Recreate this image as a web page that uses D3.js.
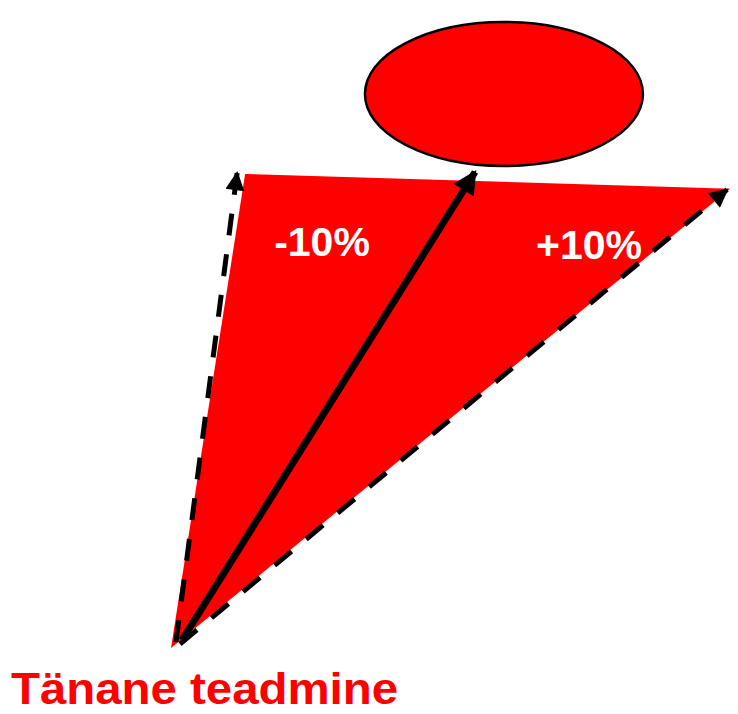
<!DOCTYPE html>
<head>
<meta charset="utf-8">
<title>Tänane teadmine</title>
<style>
  body { margin: 0; background: #fff; }
</style>
</head>
<body>
<svg width="738" height="714" id="svg1" font-family="Liberation Sans, Arial, sans-serif"></svg>
<script src="https://d3js.org/d3.v7.min.js"></script>
<script>

// diagram content
var captions = ["Tänane teadmine"];
var rangeLabels = ["-10%", "+10%"];
// points in a 0..100 diagram space: origin, lower bound, target, upper bound
var pointNames = ["origin", "low", "target", "high"];
var pointX = [0, 11.9, 53.2, 98.6];
var pointY = [0, 100, 100, 96.9];

var svg = d3.select("#svg1");

var x = d3.scaleLinear().domain([0, 100]).range([174, 738]);
var y = d3.scaleLinear().domain([0, 100]).range([646, 174]);

var pts = {};
pointNames.forEach(function(n, i) { pts[n] = [x(pointX[i]), y(pointY[i])]; });

var defs = svg.append("defs");
defs.append("marker")
    .attr("id", "head")
    .attr("viewBox", "0 0 10 10")
    .attr("refX", 9)
    .attr("refY", 5)
    .attr("markerWidth", 4.4)
    .attr("markerHeight", 3.8)
    .attr("markerUnits", "strokeWidth")
    .attr("orient", "auto")
  .append("path")
    .attr("d", "M0,0L10,5L0,10z")
    .attr("fill", "#000");
defs.append("marker")
    .attr("id", "headBig")
    .attr("viewBox", "0 0 10 10")
    .attr("refX", 9)
    .attr("refY", 5)
    .attr("markerWidth", 3.6)
    .attr("markerHeight", 3.4)
    .attr("markerUnits", "strokeWidth")
    .attr("orient", "auto")
  .append("path")
    .attr("d", "M0,0L10,5L0,10z")
    .attr("fill", "#000");

// red fan
svg.append("path")
    .attr("d", d3.line()([[pts.origin[0] - 3, pts.origin[1] + 2], [pts.low[0] + 4, pts.low[1]], pts.high]) + "Z")
    .attr("fill", "#ff0000");

// ellipse above the fan
svg.append("ellipse")
    .attr("cx", x(58.5))
    .attr("cy", 94)
    .attr("rx", 139)
    .attr("ry", 72)
    .attr("fill", "#ff0000")
    .attr("stroke", "#000")
    .attr("stroke-width", 2.5);

// dashed bounds
svg.append("line")
    .attr("x1", pts.origin[0] + 2).attr("y1", pts.origin[1] - 4)
    .attr("x2", pts.low[0] - 4).attr("y2", pts.low[1] - 1)
    .attr("stroke", "#000")
    .attr("stroke-width", 5)
    .attr("stroke-dasharray", "22,19")
    .attr("marker-end", "url(#head)");

svg.append("line")
    .attr("x1", pts.origin[0] + 6).attr("y1", pts.origin[1] - 2)
    .attr("x2", pts.high[0] - 3).attr("y2", pts.high[1] + 1)
    .attr("stroke", "#000")
    .attr("stroke-width", 5)
    .attr("stroke-dasharray", "22,19")
    .attr("marker-end", "url(#head)");

// solid arrow to target
svg.append("line")
    .attr("x1", pts.origin[0] + 8).attr("y1", pts.origin[1] - 6)
    .attr("x2", pts.target[0] + 1).attr("y2", pts.target[1] - 2)
    .attr("stroke", "#000")
    .attr("stroke-width", 7)
    .attr("marker-end", "url(#headBig)");

// labels
svg.selectAll(".range")
    .data(rangeLabels)
  .enter().append("text")
    .attr("class", "range")
    .attr("x", function(d, i) { return i === 0 ? 322 : 589; })
    .attr("y", function(d, i) { return i === 0 ? 256 : 259; })
    .attr("text-anchor", "middle")
    .attr("fill", "#fff")
    .style("font-size", "41px")
    .style("font-weight", "bold")
    .text(function(d) { return d; });

svg.append("text")
    .attr("x", 11)
    .attr("y", 704)
    .attr("fill", "#ff0000")
    .attr("textLength", 387)
    .attr("lengthAdjust", "spacingAndGlyphs")
    .style("font-size", "44px")
    .style("font-weight", "bold")
    .text(captions[0]);

</script>
</body>
